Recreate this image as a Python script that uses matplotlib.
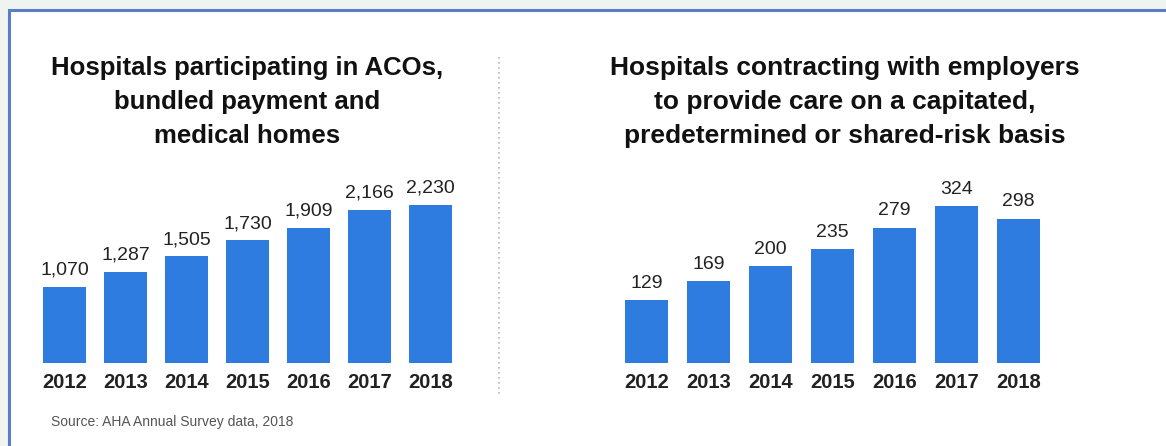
import matplotlib.pyplot as plt
from matplotlib.patches import Rectangle
from matplotlib.lines import Line2D

years = ["2012", "2013", "2014", "2015", "2016", "2017", "2018"]
aco_counts = [1070, 1287, 1505, 1730, 1909, 2166, 2230]
employer_counts = [129, 169, 200, 235, 279, 324, 298]

left_title = "Hospitals participating in ACOs,\nbundled payment and\nmedical homes"
right_title = "Hospitals contracting with employers\nto provide care on a capitated,\npredetermined or shared-risk basis"
source_note = "Source: AHA Annual Survey data, 2018"

W, H = 1166, 446
BAR_BLUE = "#2f7ce0"
SANS = ["Liberation Sans", "DejaVu Sans"]

fig = plt.figure(figsize=(W / 100, H / 100), dpi=100)
fig.patch.set_facecolor("#eef4ef")

# white card with a blue frame on left and top
fig.patches.append(Rectangle((9 / W, -0.05), 1.1, (H - 10) / H + 0.05,
                             transform=fig.transFigure, facecolor="white",
                             edgecolor="#5b7dc9", linewidth=2.2, zorder=-5))


def px_axes(x0, x1, y_base, y_top):
    # pixel box (top-left origin) -> figure axes
    return fig.add_axes([x0 / W, (H - y_base) / H, (x1 - x0) / W, (y_base - y_top) / H])


def bar_panel(ax, values, top_value):
    ax.bar(range(len(years)), values, width=0.69, color=BAR_BLUE)
    ax.set_xlim(-0.5, len(years) - 0.5)
    ax.set_ylim(0, top_value)
    ax.axis("off")
    return ax


def label_bars(ax, values):
    for i, v in enumerate(values):
        ax.annotate(f"{v:,}", (i, v), xytext=(0, 6), textcoords="offset points",
                    ha="center", va="bottom", fontsize=14, family=SANS,
                    color="#222222", annotation_clip=False)
        ax.annotate(years[i], (i, 0), xytext=(0, -7), textcoords="offset points",
                    ha="center", va="top", fontsize=14.5, family=SANS,
                    fontweight="bold", color="#222222", annotation_clip=False)


# left panel: baseline at y=363, 2230 reaches y=205
axl = px_axes(34, 461, 363, 163)
bar_panel(axl, aco_counts, 200 / (158 / 2230))
label_bars(axl, aco_counts)

# right panel: baseline at y=363, 324 reaches y=206
axr = px_axes(615.5, 1049.5, 363, 163)
bar_panel(axr, employer_counts, 200 / (157 / 324))
label_bars(axr, employer_counts)

# titles
fig.text(247 / W, 1 - 102 / H, left_title, ha="center", va="center",
         fontsize=18.5, fontweight="bold", family=SANS, color="#111111",
         linespacing=1.55)
fig.text(845 / W, 1 - 102 / H, right_title, ha="center", va="center",
         fontsize=19, fontweight="bold", family=SANS, color="#111111",
         linespacing=1.52)

# dotted divider
fig.add_artist(Line2D([499 / W, 499 / W], [1 - 57 / H, 1 - 397 / H],
                      transform=fig.transFigure, color="#b8b8b8",
                      linewidth=1.2, linestyle=(0, (1, 2))))

fig.text(51 / W, 1 - 422 / H, source_note, ha="left", va="center",
         fontsize=10, family=SANS, color="#555555")

fig.savefig("out.png", dpi=100, facecolor=fig.get_facecolor())
